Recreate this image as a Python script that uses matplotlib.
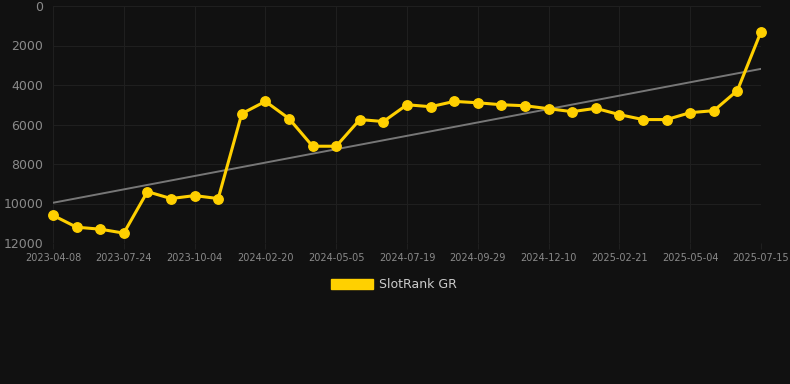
import matplotlib
matplotlib.use('Agg')
import matplotlib.pyplot as plt
from matplotlib.patches import Patch
import numpy as np

# rank values, one per sample (lower rank = better, axis reversed)
ranks = [10600, 11200, 11300, 11500, 9400, 9750, 9600, 9750, 5450, 4830,
         5700, 7100, 7100, 5750, 5850, 5000, 5100, 4830, 4900, 5000,
         5050, 5200, 5350, 5180, 5500, 5750, 5750, 5400, 5300, 4280, 1300]
tick_labels = ['2023-04-08', '2023-07-24', '2023-10-04', '2024-02-20', '2024-05-05',
               '2024-07-19', '2024-09-29', '2024-12-10', '2025-02-21', '2025-05-04',
               '2025-07-15']
label_step = 3
series_name = 'SlotRank GR'

bg = '#111111'
yellow = '#FFD000'

x = np.arange(len(ranks))
slope, intercept = np.polyfit(x, ranks, 1)
trend = slope * x + intercept

fig = plt.figure(figsize=(7.9, 3.84), dpi=100, facecolor=bg)
ax = fig.add_axes([53/790, 141/384, 708/790, 237/384], facecolor=bg)

ax.plot(x, trend, color='#777777', linewidth=1.4, zorder=2)
ax.plot(x, ranks, color=yellow, linewidth=2.2, marker='o', markersize=6.8,
        clip_on=False, zorder=3)

ax.set_xlim(0, len(ranks) - 1)
ax.set_ylim(12000, 0)
ax.set_yticks(range(0, 12001, 2000))
ax.set_xticks(x[::label_step])
ax.set_xticklabels(tick_labels)

ax.grid(True, color='#1f1f1f', linewidth=0.8)
for s in ax.spines.values():
    s.set_visible(False)
ax.tick_params(axis='y', colors='#8a8a8a', labelsize=9, length=0, pad=7)
ax.tick_params(axis='x', colors='#8a8a8a', labelsize=7, length=4, pad=3, color='#1f1f1f')

fig.legend(handles=[Patch(facecolor=yellow, edgecolor=yellow, label=series_name)],
           loc='center', bbox_to_anchor=(394/790, 1 - 285/384), frameon=False,
           labelcolor='#cccccc', fontsize=9, handlelength=3.3, handleheight=0.9,
           handletextpad=0.5)

fig.savefig('out.png', dpi=100, facecolor=bg)
